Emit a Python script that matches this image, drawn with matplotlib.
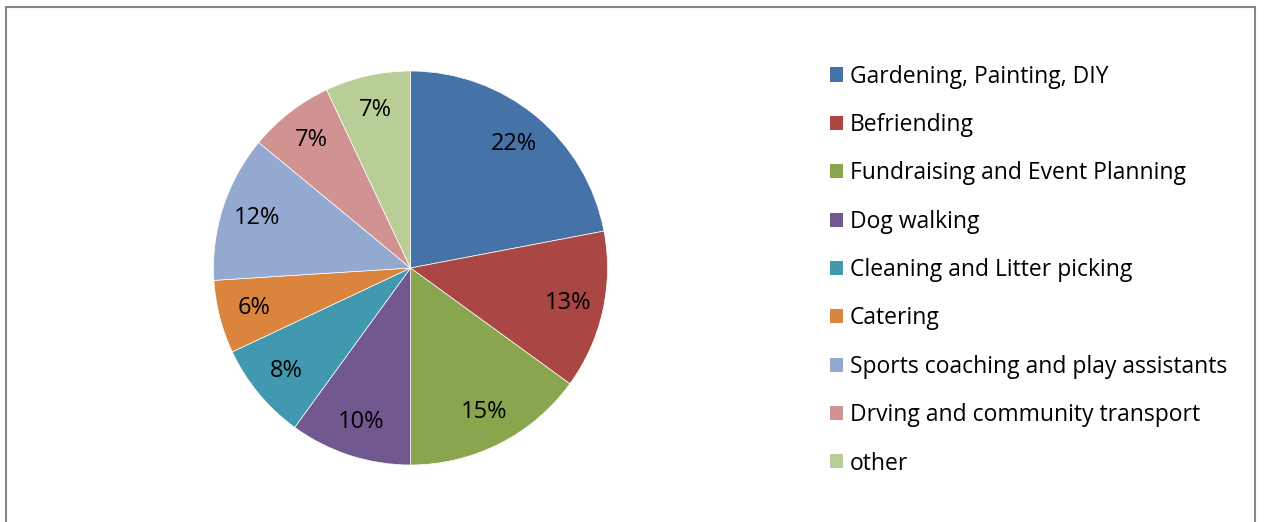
import matplotlib
matplotlib.use("Agg")
import matplotlib.pyplot as plt
from matplotlib.patches import Patch, Rectangle

categories = [
    "Gardening, Painting, DIY",
    "Befriending",
    "Fundraising and Event Planning",
    "Dog walking",
    "Cleaning and Litter picking",
    "Catering",
    "Sports coaching and play assistants",
    "Drving and community transport",
    "other",
]
shares = [22, 13, 15, 10, 8, 6, 12, 7, 7]
colors = ["#4572A7", "#AA4643", "#89A54E", "#71588F", "#4198AF",
          "#DB843D", "#93A9CF", "#D19392", "#B9CD96"]

W, H = 1264, 522
plt.rcParams["font.family"] = ["Open Sans", "DejaVu Sans"]


def main():
    fig = plt.figure(figsize=(W / 100, H / 100), dpi=100)

    # outer chart frame (bottom edge cut off in the original)
    fig.patches.append(Rectangle((6 / W, -0.05), 1249 / W, (H - 7) / H + 0.05,
                                 transform=fig.transFigure, fill=False,
                                 edgecolor="#878787", linewidth=1.5))

    cx, cy, r = 410.5, 268, 197
    ax = fig.add_axes([(cx - r) / W, (H - cy - r) / H, 2 * r / W, 2 * r / H])
    ax.pie(shares, colors=colors, startangle=90, counterclock=False,
           autopct="%1.0f%%", pctdistance=0.82,
           wedgeprops=dict(linewidth=0.5, edgecolor="white"),
           textprops=dict(fontsize=17, color="black"))
    ax.set_xlim(-1, 1)
    ax.set_ylim(-1, 1)
    ax.set_aspect("equal")

    handles = [Patch(facecolor=c, edgecolor="none") for c in colors]
    fig.legend(handles, categories, loc="upper left",
               bbox_to_anchor=(809 / W, 1 - 44 / H), frameon=False,
               fontsize=16.5, handlelength=0.57, handleheight=0.57,
               handletextpad=0.3, labelspacing=1.063)

    fig.savefig("out.png", dpi=100)


if __name__ == "__main__":
    main()
